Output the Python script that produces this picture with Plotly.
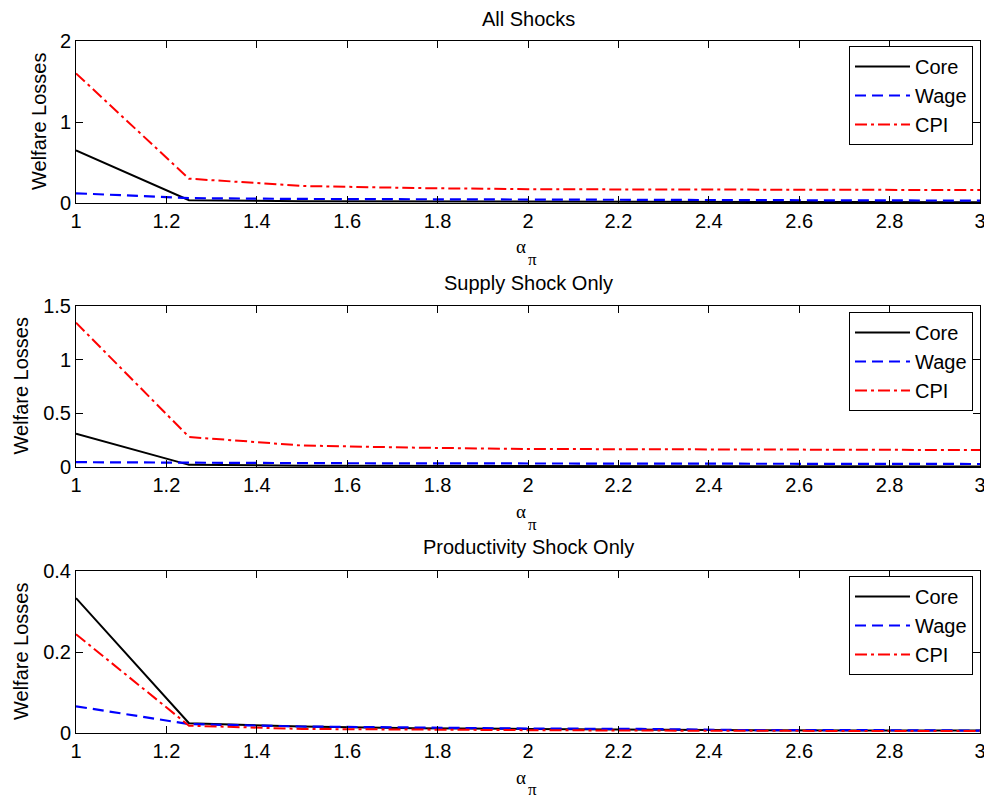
import plotly.graph_objects as go

# The page body adds an 8px margin, so the figure is drawn 8px smaller and
# all reference pixel positions are shifted by that offset.
OFF = 8
FW, FH = 992 - OFF, 799 - OFF


def px_x(p):
    return (p - OFF) / FW


def px_y(p):
    return 1 - (p - OFF) / FH


alpha_pi = [1, 1.25, 1.5, 1.75, 2, 2.25, 2.5, 2.75, 3]
x_ticks = [1, 1.2, 1.4, 1.6, 1.8, 2, 2.2, 2.4, 2.6, 2.8, 3]

titles = ["All Shocks", "Supply Shock Only", "Productivity Shock Only"]
series_names = ["Core", "Wage", "CPI"]

all_core = [0.65, 0.035, 0.022, 0.018, 0.015, 0.013, 0.012, 0.011, 0.010]
all_wage = [0.12, 0.06, 0.05, 0.045, 0.04, 0.037, 0.035, 0.032, 0.03]
all_cpi = [1.6, 0.30, 0.21, 0.185, 0.17, 0.167, 0.165, 0.162, 0.16]

sup_core = [0.31, 0.02, 0.012, 0.01, 0.008, 0.007, 0.006, 0.006, 0.005]
sup_wage = [0.045, 0.038, 0.036, 0.034, 0.032, 0.030, 0.029, 0.028, 0.028]
sup_cpi = [1.345, 0.28, 0.20, 0.18, 0.168, 0.165, 0.16, 0.158, 0.158]

prod_core = [0.333, 0.024, 0.016, 0.012, 0.010, 0.008, 0.007, 0.006, 0.006]
prod_wage = [0.066, 0.022, 0.016, 0.013, 0.011, 0.010, 0.007, 0.007, 0.006]
prod_cpi = [0.244, 0.018, 0.010, 0.008, 0.007, 0.006, 0.005, 0.005, 0.005]

panels = [
    (all_core, all_wage, all_cpi),
    (sup_core, sup_wage, sup_cpi),
    (prod_core, prod_wage, prod_cpi),
]
y_ranges = [[0, 2], [0, 1.5], [0, 0.4]]
y_dticks = [1, 0.5, 0.2]

# pixel layout (top, bottom) of each plot area in the reference
px_boxes = [(41, 203), (306, 467), (571, 733)]
x_left, x_right = 76, 980
title_y = [19, 283, 547]
alpha_pos = [(521, 247), (521, 511), (521, 777)]
pi_pos = [(532, 259), (532, 524), (532, 789)]
ylab_x = [39, 21, 21]
legend_top = [46, 312, 576]
legend_right = 973

styles = [
    dict(color="black", width=2, dash="solid"),
    dict(color="blue", width=2.2, dash="11px,6px"),
    dict(color="red", width=2, dash="12px,4px,3px,4px"),
]

FONT = "Liberation Sans, Arial, sans-serif"
SERIF = "Liberation Serif, serif"
fig = go.Figure()

for i, data in enumerate(panels):
    xa = "x" if i == 0 else f"x{i+1}"
    ya = "y" if i == 0 else f"y{i+1}"
    leg = "legend" if i == 0 else f"legend{i+1}"
    for name, vals, st in zip(series_names, data, styles):
        fig.add_trace(go.Scatter(
            x=alpha_pi, y=vals, mode="lines", name=name,
            line=st, xaxis=xa, yaxis=ya, legend=leg, showlegend=True,
        ))

layout = dict(
    width=FW, height=FH,
    margin=dict(l=0, r=0, t=0, b=0, autoexpand=False),
    paper_bgcolor="white", plot_bgcolor="white",
    font=dict(family=FONT, size=20, color="black"),
    annotations=[],
)

for i in range(3):
    top, bot = px_boxes[i]
    xk = "xaxis" if i == 0 else f"xaxis{i+1}"
    yk = "yaxis" if i == 0 else f"yaxis{i+1}"
    ya = "y" if i == 0 else f"y{i+1}"
    xa = "x" if i == 0 else f"x{i+1}"
    layout[xk] = dict(
        domain=[px_x(x_left), px_x(x_right)], anchor=ya,
        range=[1, 3], tickvals=x_ticks,
        ticktext=[f"{v:g}" for v in x_ticks],
        showline=True, linecolor="black", linewidth=1, mirror="ticks",
        ticks="inside", ticklen=7, tickcolor="black",
        showgrid=False, zeroline=False, automargin=False,
        tickfont=dict(family=FONT, size=20, color="black"),
    )
    layout[yk] = dict(
        domain=[px_y(bot), px_y(top)], anchor=xa,
        range=y_ranges[i], dtick=y_dticks[i], tick0=0,
        showline=True, linecolor="black", linewidth=1, mirror="ticks",
        ticks="inside", ticklen=7, tickcolor="black",
        showgrid=False, zeroline=False, automargin=False,
        tickfont=dict(family=FONT, size=20, color="black"),
    )
    lk = "legend" if i == 0 else f"legend{i+1}"
    layout[lk] = dict(
        x=px_x(legend_right), xanchor="right", y=px_y(legend_top[i]), yanchor="top",
        bgcolor="white", bordercolor="black", borderwidth=1,
        font=dict(family=FONT, size=20, color="black"),
        tracegroupgap=0, itemwidth=55,
    )
    layout["annotations"].append(dict(
        text=titles[i], x=px_x((x_left + x_right) / 2), y=px_y(title_y[i]),
        xref="paper", yref="paper", xanchor="center", yanchor="middle",
        showarrow=False, borderpad=0,
        font=dict(family=FONT, size=20, color="black"),
    ))
    layout["annotations"].append(dict(
        text="α", x=px_x(alpha_pos[i][0]), y=px_y(alpha_pos[i][1]),
        xref="paper", yref="paper", xanchor="center", yanchor="middle",
        showarrow=False, font=dict(family=SERIF, size=19, color="black"),
    ))
    layout["annotations"].append(dict(
        text="π", x=px_x(pi_pos[i][0]), y=px_y(pi_pos[i][1]),
        xref="paper", yref="paper", xanchor="center", yanchor="middle",
        showarrow=False, borderpad=0,
        font=dict(family=SERIF, size=17, color="black"),
    ))
    layout["annotations"].append(dict(
        text="Welfare Losses", x=px_x(ylab_x[i]), y=px_y((top + bot) / 2),
        xref="paper", yref="paper", xanchor="center", yanchor="middle",
        textangle=-90, showarrow=False,
        font=dict(family=FONT, size=20, color="black"),
    ))

fig.update_layout(**layout)
fig.write_html("out.html")
